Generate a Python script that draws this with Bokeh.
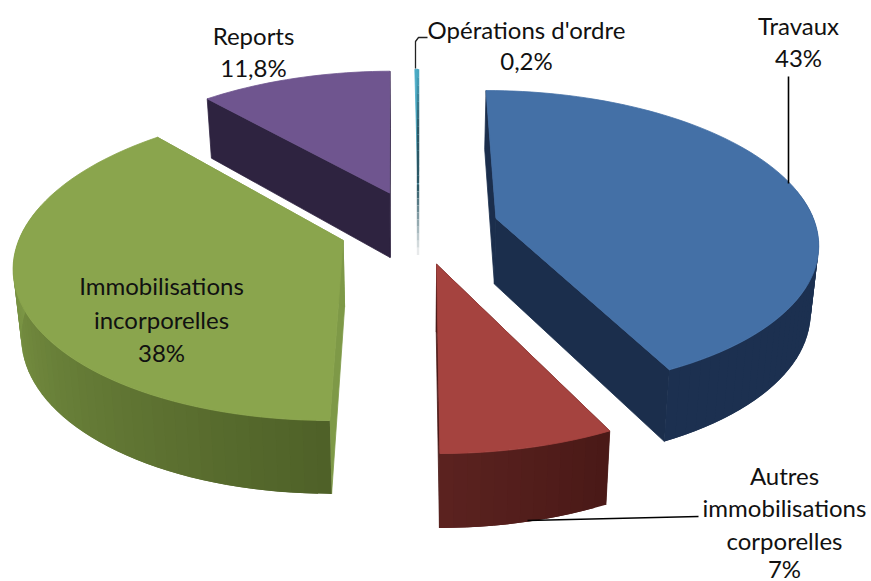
import math
from bokeh.core.properties import value
from bokeh.embed import file_html
from bokeh.models import ColumnDataSource
from bokeh.plotting import figure
from bokeh.resources import INLINE

# ---- data -------------------------------------------------------------
categories = ["Travaux", "Autres immobilisations corporelles",
              "Immobilisations incorporelles", "Reports", "Opérations d'ordre"]
shares = [43, 7, 38, 11.8, 0.2]
percent_labels = ["43%", "7%", "38%", "11,8%", "0,2%"]
top_colors = ["#4470a6", "#a5433f", "#8aa54d", "#6f558f", "#4bacc6"]
wall_from = ["#1a2c49", "#4a1917", "#4f6128", "#2e2340", "#2b5866"]
wall_to = ["#1c3050", "#5c2320", "#7f9a47", "#2e2340", "#2b5866"]
side_start = ["#1b2e4c", "#4a1917", "#7e9947", "#2e2340", "#2b5866"]
side_end = ["#1b2e4c", "#4a1917", "#7e9947", "#2e2340", "#2b5866"]

# ---- projection of the tilted, exploded pie (image pixels) ---------------
X0, Y0 = 418.0, 226.0
A, B, K = 320.0, 149.0, 0.1476
EXPLODE = 0.25
WARP = math.radians(2.5)


def project(u, v, low=False):
    d = 1 + K * v
    x = X0 + A * u / d
    y = Y0 - B * v / d
    if low:
        x = X0 + (x - X0) * 0.98
        y = y + 66 - 6.8 * v
    return x, y


def disk(a, ox, oy):
    a = a - WARP * math.sin(a)
    return ox + math.sin(a), oy + math.cos(a)


xs, ys, cols, widths = [], [], [], []


def add(poly, col, lw=0.8):
    xs.append([q[0] for q in poly])
    ys.append([q[1] for q in poly])
    cols.append(col)
    widths.append(lw)


def mix(c0, c1, t):
    a = [int(c0[i:i + 2], 16) for i in (1, 3, 5)]
    b = [int(c1[i:i + 2], 16) for i in (1, 3, 5)]
    return "#%02x%02x%02x" % tuple(round(p + (q - p) * t) for p, q in zip(a, b))


total = sum(shares)
layers = []
start = 0.0
for i, s in enumerate(shares):
    sweep = 2 * math.pi * s / total
    layers.append((i, start, sweep))
    start += sweep

teal_lines, teal_cols = [], []
for i, a0, sweep in [layers[j] for j in (3, 2, 0, 1)] + [layers[4]]:
    mid = a0 + sweep / 2
    ox, oy = EXPLODE * math.sin(mid), EXPLODE * math.cos(mid)
    n = max(2, int(math.degrees(sweep) / 2) + 1)
    angs = [a0 + sweep * k / n for k in range(n + 1)]
    rim = [disk(a, ox, oy) for a in angs]
    span = min(sweep, math.pi / 2)
    if i == 4:
        # the sliver is too thin for faces: a shaded edge from rim to foot
        p_top = project(*rim[-1])
        p_apex = project(ox, oy)
        p_foot = project(ox, oy, True)
        add([project(*rim[0]), project(*rim[-1]), p_apex], top_colors[i])
        seg = 24
        for k in range(seg):
            t0, t1 = k / seg, (k + 1) / seg
            if t1 <= 0.62:
                f0, f1 = t0 / 0.62, t1 / 0.62
                a, b = p_top, p_apex
            else:
                f0, f1 = (t0 - 0.62) / 0.38, (t1 - 0.62) / 0.38
                a, b = p_apex, p_foot
            t = (t0 + t1) / 2
            if t < 0.3:
                col = mix(top_colors[i], wall_from[i], t / 0.3)
            elif t < 0.6:
                col = wall_from[i]
            else:
                col = mix(wall_from[i], "#f2f2f2", (t - 0.6) / 0.4)
            teal_lines.append(([a[0] + (b[0] - a[0]) * f0, a[0] + (b[0] - a[0]) * f1],
                               [a[1] + (b[1] - a[1]) * f0, a[1] + (b[1] - a[1]) * f1]))
            teal_cols.append(col)
        continue
    # radial cut faces
    for rp, col in ((rim[0], side_start[i]), (rim[-1], side_end[i])):
        add([project(ox, oy), project(*rp), project(*rp, True), project(ox, oy, True)], col)
    # outer wall on the near side, shaded along the rim; each face runs under the next
    for k in range(n):
        if math.cos(angs[k]) > 0.15 and math.cos(angs[k + 1]) > 0.15:
            continue
        p, q = rim[k], rim[min(k + 2, n)]
        t = min(1.0, (angs[k] - a0) / span)
        add([project(*p), project(*q), project(*q, True), project(*p, True)],
            mix(wall_from[i], wall_to[i], t), 0)
    # top surface
    add([project(ox, oy)] + [project(*r) for r in rim], top_colors[i])

# ---- figure --------------------------------------------------------------
p = figure(width=871, height=581, x_range=(0, 871), y_range=(581, 0),
           output_backend="svg", toolbar_location=None, min_border=0)
p.axis.visible = False
p.grid.visible = False
p.outline_line_color = None
p.background_fill_color = "white"

p.patches("xs", "ys", source=ColumnDataSource(dict(xs=xs, ys=ys, c=cols, w=widths)),
          fill_color="c", line_color="c", line_width="w")
p.multi_line([t[0] for t in teal_lines], [t[1] for t in teal_lines],
             line_color=teal_cols, line_width=2.4)

# leaders
p.line([788, 788], [76, 183], line_color="black", line_width=1.6)
p.line([427, 418, 415, 415], [37, 37, 41, 68], line_color="#222222", line_width=1.3)
p.line([698, 527], [516, 520], line_color="black", line_width=1.6)

# labels: one row per text line
label_lines = [
    ("Travaux", 798, 25), (percent_labels[0], 798, 57),
    ("Autres", 784, 475), ("immobilisations", 784, 507), ("corporelles", 784, 540),
    (percent_labels[1], 784, 568),
    ("Immobilisations", 161, 285), ("incorporelles", 161, 319), (percent_labels[2], 161, 352),
    ("Reports", 253, 35), (percent_labels[3], 253, 67),
    ("Opérations d'ordre", 526, 29), (percent_labels[4], 526, 60),
]
p.text([l[1] for l in label_lines], [l[2] for l in label_lines],
        text=[l[0] for l in label_lines], text_font=value("Lato"),
        text_font_size="24px", text_color="#111111",
        text_align="center", text_baseline="middle")

open("out.html", "w").write(file_html(p, INLINE))
